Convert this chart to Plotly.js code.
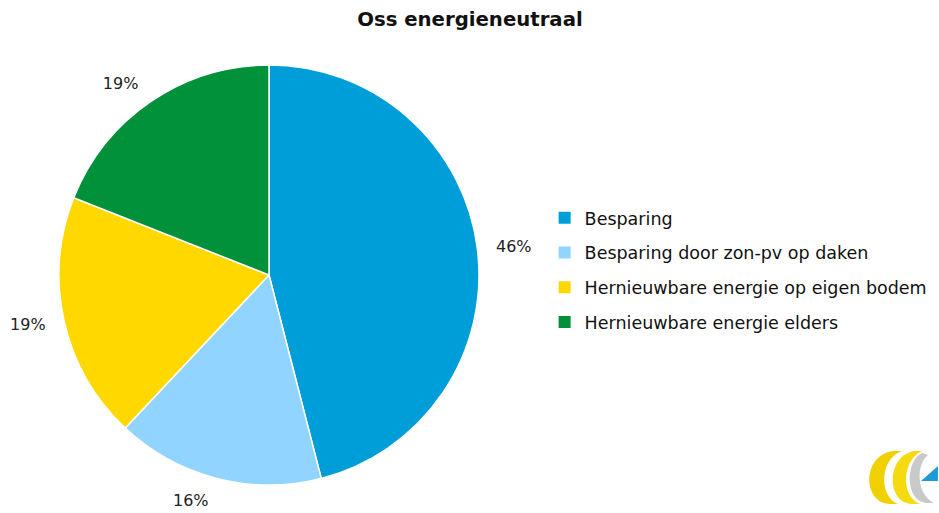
<!DOCTYPE html>
<html><head><meta charset="utf-8">
<script src="https://cdn.plot.ly/plotly-3.0.1.min.js"></script>
<style>html,body{margin:0;padding:0;background:#fff;}#chart{width:939px;height:513px;}</style>
</head><body><div id="chart"></div>
<script>
const categories = ["Besparing", "Besparing door zon-pv op daken", "Hernieuwbare energie op eigen bodem", "Hernieuwbare energie elders"];
const values = [46, 16, 19, 19];
const colors = ["#009ED9", "#91D4FF", "#FFD800", "#00913A"];

const W = 939, H = 513;
function P(x, y){ return (x/W).toFixed(4) + "," + (1 - y/H).toFixed(4); }

const shapes = [
  {type:"path", xref:"paper", yref:"paper", line:{width:0}, fillcolor:"#F0D000",
   path:"M"+P(893,451)+" C"+P(862,455)+" "+P(862,503)+" "+P(890,504)+" L"+P(898,504)+" C"+P(878,496)+" "+P(880,458)+" "+P(902,451)+" Z"},
  {type:"path", xref:"paper", yref:"paper", line:{width:0}, fillcolor:"#F5DA10",
   path:"M"+P(914,451)+" C"+P(886,456)+" "+P(886,503)+" "+P(912,504)+" L"+P(920,504)+" C"+P(900,496)+" "+P(902,460)+" "+P(922,451)+" Z"},
  {type:"path", xref:"paper", yref:"paper", line:{width:0}, fillcolor:"#C9C9C9",
   path:"M"+P(922,453)+" C"+P(906,460)+" "+P(904,500)+" "+P(926,503)+" L"+P(934,503)+" C"+P(916,494)+" "+P(916,464)+" "+P(928,455)+" Z"},
  {type:"path", xref:"paper", yref:"paper", line:{width:0}, fillcolor:"#1E9AD6",
   path:"M"+P(938,466)+" L"+P(938,481)+" L"+P(921,481)+" Z"}
];

// legend-only pies (one per category), hidden under the main pie, so the legend items can be spaced
const legendTraces = categories.map((c, i) => ({
  type: "pie",
  labels: [c],
  values: [values[i]],
  marker: {colors: [colors[i]]},
  textinfo: "none",
  legendgroup: "g" + i,
  legendrank: i + 1,
  showlegend: true,
  sort: false,
  domain: {x: [0.40, 0.401], y: [0.45, 0.452]},
  hoverinfo: "skip"
}));

// transparent, slightly larger pie that only carries the outside percentage labels
const labelPie = {
  type: "pie",
  labels: categories,
  values: values,
  marker: {colors: categories.map(() => "rgba(0,0,0,0)"), line: {width: 0}},
  sort: false,
  direction: "clockwise",
  rotation: 0,
  textinfo: "percent",
  texttemplate: "%{percent:.0%}",
  textposition: "outside",
  textfont: {family: "DejaVu Sans", size: 16, color: "#222"},
  showlegend: false,
  domain: {x: [45/W, 493/W], y: [1 - 499/H, 1 - 51/H]},
  hoverinfo: "skip"
};

const mainPie = {
  type: "pie",
  labels: categories,
  values: values,
  marker: {colors: colors, line: {color: "#ffffff", width: 1.5}},
  sort: false,
  direction: "clockwise",
  rotation: 0,
  textinfo: "none",
  showlegend: false,
  domain: {x: [59/W, 479/W], y: [1 - 485/H, 1 - 65/H]},
  hoverinfo: "label+percent"
};

const data = legendTraces.concat([labelPie, mainPie]);

const layout = {
  width: W, height: H,
  margin: {l: 0, r: 0, t: 0, b: 0},
  paper_bgcolor: "#fff",
  title: {text: "<b>Oss energieneutraal</b>", x: 0.5005, xanchor: "center", y: 0.962, yanchor: "middle",
          font: {family: "DejaVu Sans", size: 19.7, color: "#111"}},
  showlegend: true,
  legend: {x: 0.580, y: 0.474, xanchor: "left", yanchor: "middle",
           font: {family: "DejaVu Sans", size: 17.5, color: "#111"},
           traceorder: "grouped", tracegroupgap: 9},
  shapes: shapes
};

Plotly.newPlot("chart", data, layout, {displayModeBar: false, staticPlot: true});
</script></body></html>
